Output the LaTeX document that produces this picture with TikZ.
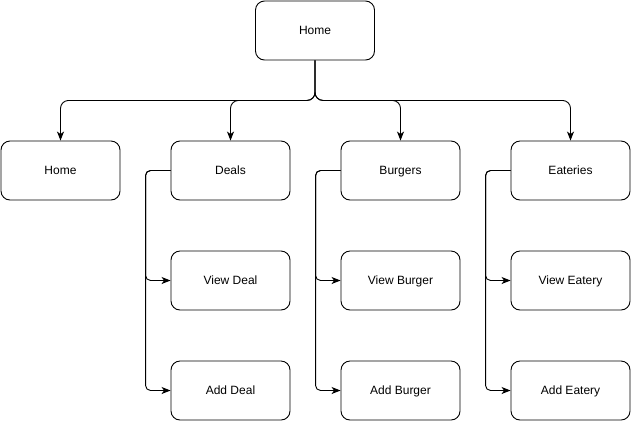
\documentclass[tikz,border=0pt]{standalone}
\usepackage{fontspec}
\setmainfont{Liberation Sans}
\usetikzlibrary{arrows.meta,positioning}

\begin{document}
\begin{tikzpicture}[
  x=1pt, y=1pt,
  node distance=50.1pt,
  page/.style={draw, rounded corners=9pt, minimum width=119pt, minimum height=59pt, align=center, font=\fontsize{12}{14}\selectfont, text height=9.6pt, text depth=1.4pt, line width=0.9pt, fill=white},
  link/.style={line width=0.9pt, rounded corners=8pt, -{Stealth[length=9pt,width=7pt,inset=2.5pt]}},
  sublink/.style={link, rounded corners=5pt}
]
\useasboundingbox (0,0) rectangle (631,-421);
\node[page] (root) at (315,-30.5) {Home};
\node[page] (deals) at (230.5,-170.5) {Deals};
\node[page, left=of deals] (home) {Home};
\node[page, right=of deals] (burgers) {Burgers};
\node[page, right=of burgers] (eateries) {Eateries};
\node[page, below=of deals] (viewdeal) {View Deal};
\node[page, below=of viewdeal] (adddeal) {Add Deal};
\node[page, below=of burgers] (viewburger) {View Burger};
\node[page, below=of viewburger] (addburger) {Add Burger};
\node[page, below=of eateries] (vieweatery) {View Eatery};
\node[page, below=of vieweatery] (addeatery) {Add Eatery};
% top level
\draw[link] (root.south) -- ++(0,-40) -| (home.north);
\draw[link] (root.south) -- ++(0,-40) -| (deals.north);
\draw[link] (root.south) -- ++(0,-40) -| (burgers.north);
\draw[link] (root.south) -- ++(0,-40) -| (eateries.north);
% sub pages
\draw[sublink] (deals.west) -- ([xshift=-25pt]deals.west) |- (viewdeal.west);
\draw[sublink] (deals.west) -- ([xshift=-25pt]deals.west) |- (adddeal.west);
\draw[sublink] (burgers.west) -- ([xshift=-25pt]burgers.west) |- (viewburger.west);
\draw[sublink] (burgers.west) -- ([xshift=-25pt]burgers.west) |- (addburger.west);
\draw[sublink] (eateries.west) -- ([xshift=-25pt]eateries.west) |- (vieweatery.west);
\draw[sublink] (eateries.west) -- ([xshift=-25pt]eateries.west) |- (addeatery.west);
\end{tikzpicture}
\end{document}
